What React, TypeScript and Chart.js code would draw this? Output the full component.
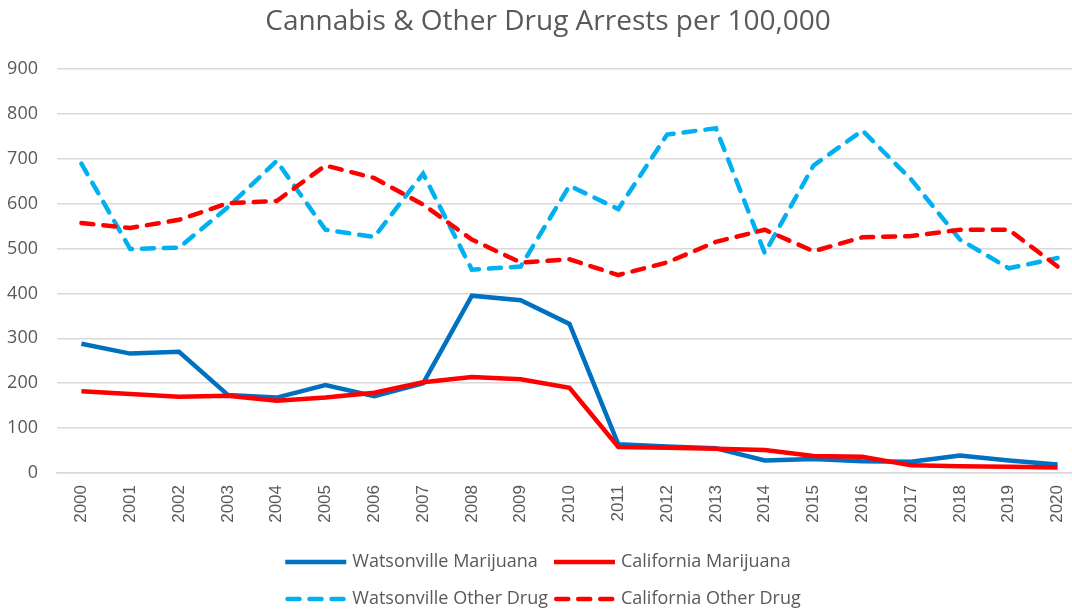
import React, { useEffect, useRef } from "react";
import { Chart, registerables } from "chart.js";

Chart.register(...registerables);

const years = ["2000","2001","2002","2003","2004","2005","2006","2007","2008","2009","2010","2011","2012","2013","2014","2015","2016","2017","2018","2019","2020"];
const watsonvilleMarijuana = [288, 266, 270, 174, 168, 196, 171, 200, 395, 385, 332, 64, 59, 55, 28, 31, 26, 25, 39, 28, 19];
const californiaMarijuana = [182, 176, 170, 172, 161, 168, 179, 202, 214, 209, 190, 58, 56, 54, 51, 38, 36, 17, 15, 14, 12];
const watsonvilleOther = [689, 499, 502, 592, 695, 542, 526, 667, 453, 460, 640, 588, 754, 768, 490, 685, 763, 654, 520, 456, 479];
const californiaOther = [557, 546, 564, 601, 606, 685, 657, 598, 520, 469, 476, 441, 469, 515, 542, 494, 525, 528, 542, 542, 460];
const seriesNames = ["Watsonville Marijuana", "California Marijuana", "Watsonville Other Drug", "California Other Drug"];
const chartTitle = "Cannabis & Other Drug Arrests per 100,000";

const TEXT = "#595959";
const GRID = "#d9d9d9";
const FONT = "'Open Sans', sans-serif";
const DASH = [12, 10];

const titleLegendPlugin = {
  id: "titleAndGridLegend",
  afterDraw(chart: any) {
    const ctx = chart.ctx;
    const ds = chart.data.datasets;
    ctx.save();
    // title
    ctx.font = `28px ${FONT}`;
    ctx.fillStyle = TEXT;
    ctx.textAlign = "center";
    ctx.textBaseline = "middle";
    ctx.fillText(chartTitle, 548, 22);
    // legend
    ctx.font = `18px ${FONT}`;
    ctx.textAlign = "left";
    const lineLen = 61;
    const gap = 6;
    const colGap = 6;
    const w = ds.map((d: any) => lineLen + gap + ctx.measureText(d.label).width);
    const col1 = Math.max(w[0], w[2]) + colGap;
    const col2 = Math.max(w[1], w[3]);
    const total = col1 + col2;
    const startX = 543 - total / 2;
    const rows = [562, 599];
    ds.forEach((d: any, i: number) => {
      const r = Math.floor(i / 2);
      const c = i % 2;
      const x = startX + (c === 0 ? 0 : col1);
      const y = rows[r];
      ctx.save();
      ctx.strokeStyle = d.borderColor;
      ctx.lineWidth = 4.5;
      ctx.lineCap = d.borderDash && d.borderDash.length ? "round" : "butt";
      ctx.setLineDash(d.borderDash || []);
      ctx.beginPath();
      const inset = ctx.lineCap === "round" ? 2.25 : 0;
      ctx.moveTo(x + inset, y);
      ctx.lineTo(x + lineLen - inset, y);
      ctx.stroke();
      ctx.restore();
      ctx.fillStyle = TEXT;
      ctx.fillText(d.label, x + lineLen + gap, y);
    });
    ctx.restore();
  },
};

export default function App() {
  const ref = useRef<HTMLCanvasElement | null>(null);
  useEffect(() => {
    if (!ref.current) return;
    const chart = new Chart(ref.current, {
      type: "line",
      data: {
        labels: years,
        datasets: [
          { label: seriesNames[0], data: watsonvilleMarijuana, borderColor: "#0070C0", backgroundColor: "#0070C0", borderWidth: 4.5, pointRadius: 0, order: 3, tension: 0 },
          { label: seriesNames[1], data: californiaMarijuana, borderColor: "#FF0000", backgroundColor: "#FF0000", borderWidth: 4.5, pointRadius: 0, order: 2, tension: 0 },
          { label: seriesNames[2], data: watsonvilleOther, borderColor: "#00B0F0", backgroundColor: "#00B0F0", borderWidth: 4.5, pointRadius: 0, borderDash: DASH, borderCapStyle: "round", order: 1, tension: 0 },
          { label: seriesNames[3], data: californiaOther, borderColor: "#FF0000", backgroundColor: "#FF0000", borderWidth: 4.5, pointRadius: 0, borderDash: DASH, borderCapStyle: "round", order: 0, tension: 0 },
        ],
      },
      options: {
        responsive: false,
        animation: false,
        devicePixelRatio: 1,
        layout: { padding: { left: 0, right: 14, top: 69, bottom: 69 } },
        plugins: {
          legend: { display: false },
          tooltip: { enabled: false },
          title: { display: false },
        },
        scales: {
          x: {
            offset: true,
            grid: { display: false, drawTicks: false },
            border: { display: true, color: GRID, width: 1.5 },
            ticks: {
              autoSkip: false,
              minRotation: 90,
              maxRotation: 90,
              padding: 12,
              color: TEXT,
              font: { family: "'Liberation Sans', Arial, sans-serif", size: 17 },
            },
            afterFit: (s: any) => { s.height = 70; },
          },
          y: {
            min: 0,
            max: 900,
            grid: { color: GRID, lineWidth: 1.5, drawTicks: false },
            border: { display: false },
            ticks: {
              stepSize: 100,
              padding: 19,
              color: TEXT,
              font: { family: FONT, size: 18 },
            },
            afterFit: (s: any) => { s.width = 57; },
          },
        },
      },
      plugins: [titleLegendPlugin],
    });
    return () => chart.destroy();
  }, []);
  return (
    <div style={{ position: "fixed", left: 0, top: 0, width: 1072, height: 612, overflow: "hidden", background: "#fff" }}>
      <canvas ref={ref} width={1096} height={612} style={{ width: 1096, height: 612, display: "block" }} />
    </div>
  );
}
